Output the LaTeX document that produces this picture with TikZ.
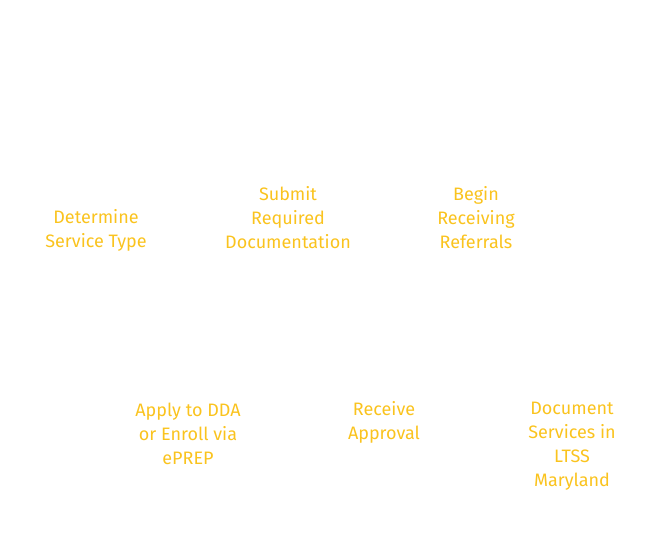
\documentclass[tikz,border=0pt]{standalone}
\usepackage{fontspec}
\setmainfont{Fira Sans}
\definecolor{stepyellow}{RGB}{250,195,30}
\tikzset{
  stagelabel/.style={align=center, text=stepyellow, font=\fontsize{13.5}{18}\selectfont}
}
\begin{document}
\begin{tikzpicture}[x=0.75pt,y=-0.75pt]
  \useasboundingbox (0,0) rectangle (672,540);

  \node[stagelabel] (type) at (96,230) {Determine\\Service Type};
  \node[stagelabel] (docs) at (288,218) {Submit\\Required\\Documentation};
  \node[stagelabel] (refer) at (476,218) {Begin\\Receiving\\Referrals};
  \node[stagelabel] (apply) at (188,434) {Apply to DDA\\or Enroll via\\ePREP};
  \node[stagelabel] (approve) at (384,422) {Receive\\Approval};
  \node[stagelabel] (ltss) at (572,446) {Document\\Services in\\LTSS\\Maryland};

\end{tikzpicture}
\end{document}
